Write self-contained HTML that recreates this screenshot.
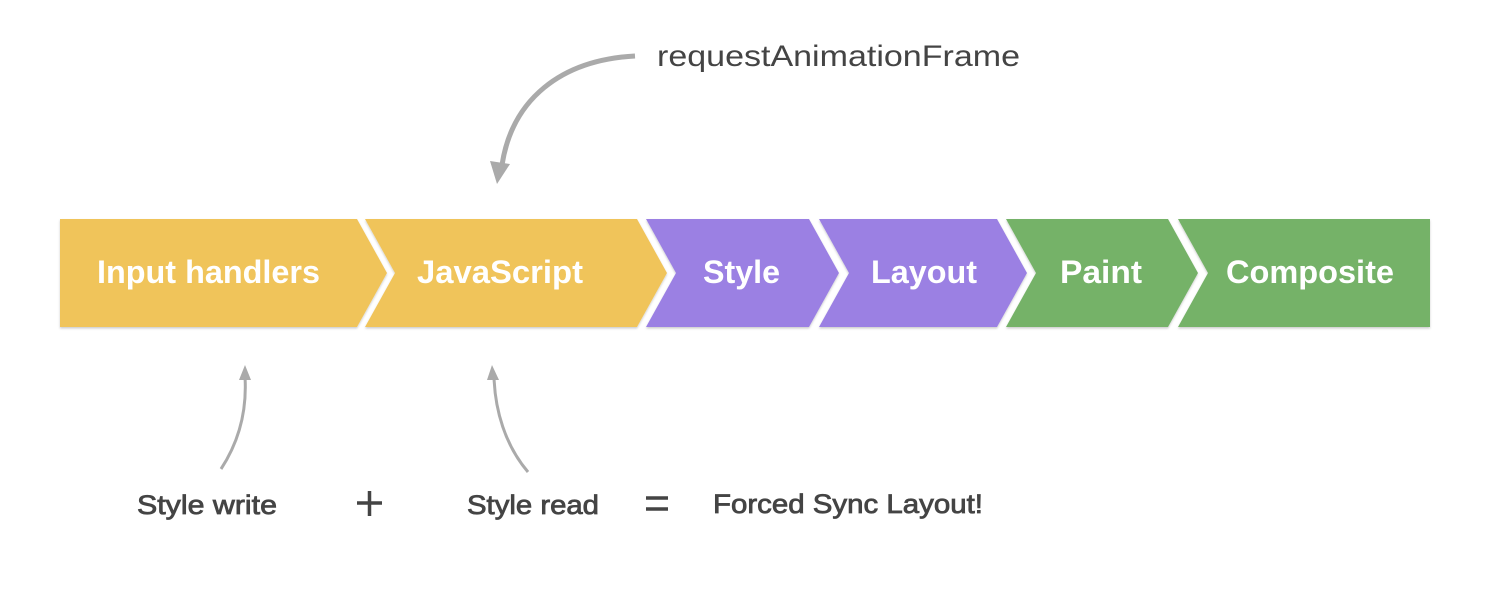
<!DOCTYPE html>
<html><head><meta charset="utf-8"><style>
html,body{margin:0;padding:0;background:#fff;width:1496px;height:605px;overflow:hidden}
svg{display:block}
</style></head><body>
<svg width="1496" height="605" viewBox="0 0 1496 605" xmlns="http://www.w3.org/2000/svg">
<defs>
<filter id="sh" x="-5%" y="-5%" width="110%" height="120%"><feDropShadow dx="0" dy="1.5" stdDeviation="1" flood-color="#000" flood-opacity="0.2"/></filter>
</defs>
<g filter="url(#sh)">
<polygon points="60,219 357,219 387,273 357,327 60,327" fill="#F0C45A"/>
<polygon points="365,219 637,219 667,273 637,327 365,327 395,273" fill="#F0C45A"/>
<polygon points="646,219 809,219 839,273 809,327 646,327 676,273" fill="#9B80E3"/>
<polygon points="819,219 997,219 1027,273 997,327 819,327 849,273" fill="#9B80E3"/>
<polygon points="1006,219 1168,219 1198,273 1168,327 1006,327 1036,273" fill="#74B267"/>
<polygon points="1178,219 1430,219 1430,327 1178,327 1208,273" fill="#74B267"/>
</g>
<g font-family="Liberation Sans, sans-serif" font-weight="bold" font-size="32" fill="#fff">
<text x="97" y="283" textLength="223" lengthAdjust="spacingAndGlyphs">Input handlers</text>
<text x="417" y="283" textLength="166" lengthAdjust="spacingAndGlyphs">JavaScript</text>
<text x="703" y="283" textLength="77" lengthAdjust="spacingAndGlyphs">Style</text>
<text x="871" y="283" textLength="106" lengthAdjust="spacingAndGlyphs">Layout</text>
<text x="1060" y="283" textLength="82" lengthAdjust="spacingAndGlyphs">Paint</text>
<text x="1226" y="283" textLength="168" lengthAdjust="spacingAndGlyphs">Composite</text>
</g>
<g fill="none" stroke="#aaa" stroke-width="5">
<path d="M635,56 C560,60 512,100 502,165"/>
</g>
<polygon points="490,161 510,164 497,184" fill="#aaa"/>
<g fill="none" stroke="#aaa" stroke-width="3">
<path d="M221,469 C240,440 247,410 245,377"/>
<path d="M528,472 C505,445 495,410 494,377"/>
</g>
<polygon points="239,380 251,380 245,365" fill="#aaa"/>
<polygon points="487,380 499,380 492,365" fill="#aaa"/>
<text x="657" y="66" font-family="Liberation Sans, sans-serif" font-size="30" fill="#444" textLength="363" lengthAdjust="spacingAndGlyphs">requestAnimationFrame</text>
<g font-family="Liberation Sans, sans-serif" font-size="27" fill="#444" stroke="#444" stroke-width="0.8">
<text x="137" y="514" textLength="140" lengthAdjust="spacingAndGlyphs">Style write</text>
<text x="467" y="514" textLength="132" lengthAdjust="spacingAndGlyphs">Style read</text>
<text x="713" y="513" textLength="270" lengthAdjust="spacingAndGlyphs">Forced Sync Layout!</text>
</g>
<g stroke="#444" stroke-width="3.5">
<line x1="357" y1="503" x2="382" y2="503"/>
<line x1="369.5" y1="491" x2="369.5" y2="516"/>
<line x1="646" y1="498" x2="668" y2="498"/>
<line x1="646" y1="509" x2="668" y2="509"/>
</g>
</svg>
</body></html>
